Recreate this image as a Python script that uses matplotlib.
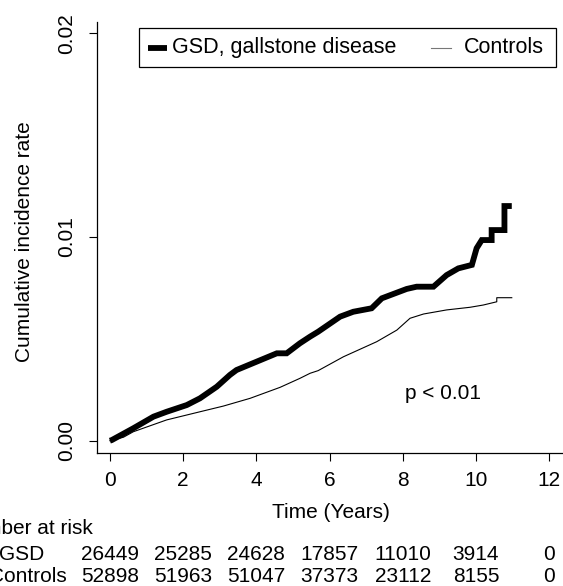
import matplotlib
matplotlib.use("Agg")
import matplotlib.pyplot as plt
from matplotlib.transforms import blended_transform_factory
from matplotlib.patches import Rectangle
from matplotlib.lines import Line2D

plt.rcParams['font.family'] = ['Liberation Sans', 'DejaVu Sans']

# ---- data ----
gsd_t = [0.0, 0.05, 0.64, 1.19, 1.55, 2.10, 2.46, 2.92, 3.28, 3.46, 4.01, 4.56, 4.83,
         5.19, 5.47, 5.69, 6.29, 6.65, 7.15, 7.43, 8.11, 8.38, 8.84, 9.20, 9.52, 9.89,
         10.02, 10.16, 10.43, 10.43, 10.78, 10.78, 10.98]
gsd_y = [0.0, 0.00003, 0.00061, 0.00118, 0.00142, 0.00175, 0.00208, 0.00265, 0.00323,
         0.00347, 0.00388, 0.00429, 0.00429, 0.00478, 0.00511, 0.00535, 0.00609, 0.00633,
         0.00650, 0.00699, 0.00745, 0.00756, 0.00756, 0.00813, 0.00846, 0.00863,
         0.00945, 0.00985, 0.00985, 0.01034, 0.01034, 0.01152, 0.01152]

ctl_t = [0.0, 0.37, 0.64, 1.55, 2.46, 3.10, 3.83, 4.65, 5.19, 5.47, 5.69, 6.38, 7.29,
         7.84, 8.20, 8.57, 9.20, 9.84, 10.20, 10.57, 10.57, 10.98]
ctl_y = [0.0, 0.00017, 0.00044, 0.00102, 0.00142, 0.00170, 0.00208, 0.00262, 0.00306,
         0.00331, 0.00344, 0.00412, 0.00486, 0.00543, 0.00601, 0.00622, 0.00642,
         0.00655, 0.00666, 0.00682, 0.00702, 0.00702]

risk_times = [0, 2, 4, 6, 8, 10, 12]
risk_gsd = [26449, 25285, 24628, 17857, 11010, 3914, 0]
risk_ctl = [52898, 51963, 51047, 37373, 23112, 8155, 0]

x_ticks = [0, 2, 4, 6, 8, 10, 12]
y_ticks = [0.00, 0.01, 0.02]
y_tick_labels = ["0.00", "0.01", "0.02"]

W, H = 563, 586
FS = 15
LFS = 15.5

fig = plt.figure(figsize=(W / 100, H / 100), dpi=100)

def fx(px):
    return px / W

def fy(py):
    return 1 - py / H

ax_l, ax_r, ax_t, ax_b = 96.7, 563, 21.7, 453
ax = fig.add_axes([fx(ax_l), fy(ax_b), fx(ax_r) - fx(ax_l), fy(ax_t) - fy(ax_b)])

ax.plot(gsd_t, gsd_y, color='black', lw=4.2, solid_joinstyle='miter', solid_capstyle='butt')
ax.plot(ctl_t, ctl_y, color='black', lw=0.8)

# axis limits so that 0 -> px 109.9 and 12 -> px 549.3
ppy = 36.6
ax.set_xlim((ax_l - 109.9) / ppy, (ax_r - 109.9) / ppy)
ppv = 20370.0
ax.set_ylim((440.7 - ax_b) / ppv, (440.7 - ax_t) / ppv)

for s in ['top', 'right']:
    ax.spines[s].set_visible(False)
for s in ['left', 'bottom']:
    ax.spines[s].set_linewidth(0.9)

ax.set_xticks(x_ticks)
ax.set_xticklabels([str(v) for v in x_ticks], fontsize=FS)
ax.set_yticks(y_ticks)
ax.set_yticklabels(y_tick_labels, fontsize=FS, rotation=90, va='center')
ax.tick_params(axis='both', direction='out', length=5.8, width=0.8)
ax.tick_params(axis='x', pad=7.5)
ax.tick_params(axis='y', pad=9)

ax.text(9.10, 0.00234, "p < 0.01", fontsize=FS, ha='center', va='center')

fig.text(fx(331), fy(512), "Time (Years)", fontsize=FS, ha='center', va='center')
fig.text(fx(25), fy(242), "Cumulative incidence rate", fontsize=FS, ha='center',
         va='center', rotation=90)

# legend box
fig.patches.append(Rectangle((fx(139.3), fy(67.3)), fx(555.7) - fx(139.3), fy(28.3) - fy(67.3),
                             transform=fig.transFigure, fill=False, lw=0.9, edgecolor='black'))
ly = 47.5
fig.lines.append(Line2D([fx(148), fx(167)], [fy(ly), fy(ly)], transform=fig.transFigure,
                        color='black', lw=4.2, solid_capstyle='butt'))
fig.text(fx(172), fy(ly), "GSD, gallstone disease", fontsize=LFS, ha='left', va='center')
fig.lines.append(Line2D([fx(431), fx(451)], [fy(ly), fy(ly)], transform=fig.transFigure,
                        color='#777777', lw=0.8))
fig.text(fx(464), fy(ly), "Controls", fontsize=LFS, ha='left', va='center')

# risk table
tr = blended_transform_factory(ax.transData, fig.transFigure)
fig.text(fx(-42.6), fy(528), "Number at risk", fontsize=FS, ha='left', va='center')
fig.text(fx(-1), fy(554), "GSD", fontsize=FS, ha='left', va='center')
fig.text(fx(-11), fy(576), "Controls", fontsize=FS, ha='left', va='center')
for t, g, c in zip(risk_times, risk_gsd, risk_ctl):
    ax.text(t, fy(554), str(g), transform=tr, fontsize=FS, ha='center', va='center', clip_on=False)
    ax.text(t, fy(576), str(c), transform=tr, fontsize=FS, ha='center', va='center', clip_on=False)

fig.savefig("out.png", dpi=100)
